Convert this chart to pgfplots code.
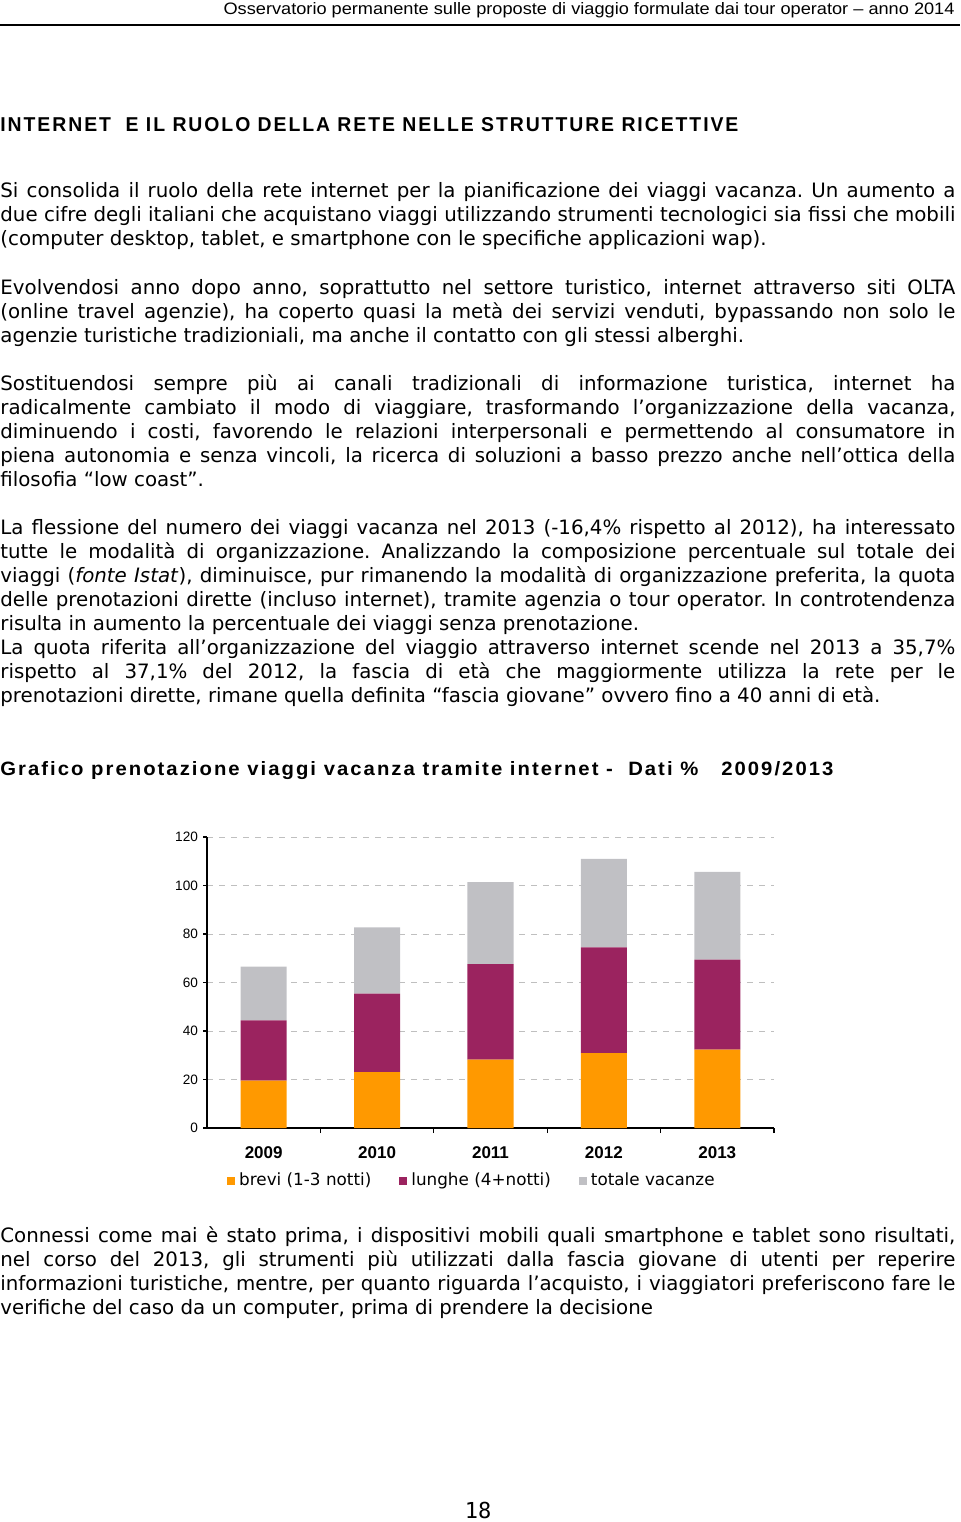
\documentclass[border=0pt]{standalone}
\usepackage{fontspec}
\setmainfont{DejaVu Sans}
\newfontfamily\arial{Liberation Sans}
\newfontfamily\arialsp[LetterSpace=10]{Liberation Sans}
\newfontfamily\monofont{DejaVu Sans Mono}
\usepackage{pgfplots}
\pgfplotsset{compat=1.18}
\definecolor{brevi}{RGB}{255,153,0}
\definecolor{lunghe}{RGB}{155,35,95}
\definecolor{totale}{RGB}{192,192,196}
\frenchspacing

% one justified line, one ragged line (y = baseline in px)
\newcommand\jline[2]{\node[anchor=base west,inner sep=0pt] at (0,#1) {\makebox[477.5pt][s]{#2}};}
\newcommand\rline[2]{\node[anchor=base west,inner sep=0pt] at (0,#1) {#2};}

\begin{document}
\begin{tikzpicture}
\begin{scope}[x=0.5pt,y=-0.5pt,every node/.style={font=\fontsize{9.9}{11}\selectfont}]
\path[use as bounding box] (0,0) rectangle (960,1522);
% header
\node[anchor=base east,inner sep=0pt] at (955,14) {\resizebox{365.5pt}{6pt}{\arial Osservatorio permanente sulle proposte di viaggio formulate dai tour operator – anno 2014}};
\draw[line width=0.8pt] (0,25) -- (960,25);
% section title
\node[anchor=base west,inner sep=0pt] at (0,131) {\resizebox{369pt}{7pt}{\arialsp\bfseries INTERNET\ \ E IL RUOLO DELLA RETE NELLE STRUTTURE RICETTIVE}};
% paragraph 1
\jline{197}{Si consolida il ruolo della rete internet per la pianificazione dei viaggi vacanza. Un aumento a}
\jline{221}{due cifre degli italiani che acquistano viaggi utilizzando strumenti tecnologici sia fissi che mobili}
\rline{245}{(computer desktop, tablet, e smartphone con le specifiche applicazioni wap).}
% paragraph 2
\jline{294}{Evolvendosi anno dopo anno, soprattutto nel settore turistico, internet attraverso siti OLTA}
\jline{318}{(online travel agenzie), ha coperto quasi la metà dei servizi venduti, bypassando non solo le}
\rline{342}{agenzie turistiche tradizioniali, ma anche il contatto con gli stessi alberghi.}
% paragraph 3
\jline{390}{Sostituendosi sempre più ai canali tradizionali di informazione turistica, internet ha}
\jline{414}{radicalmente cambiato il modo di viaggiare, trasformando l'organizzazione della vacanza,}
\jline{438}{diminuendo i costi, favorendo le relazioni interpersonali e permettendo al consumatore in}
\jline{462}{piena autonomia e senza vincoli, la ricerca di soluzioni a basso prezzo anche nell’ottica della}
\rline{486}{filosofia “low coast”.}
% paragraph 4
\jline{534}{La flessione del numero dei viaggi vacanza nel 2013 (-16,4\% rispetto al 2012), ha interessato}
\jline{558}{tutte le modalità di organizzazione. Analizzando la composizione percentuale sul totale dei}
\jline{582}{viaggi (\textit{fonte Istat}), diminuisce, pur rimanendo la modalità di organizzazione preferita, la quota}
\jline{606}{delle prenotazioni dirette (incluso internet), tramite agenzia o tour operator. In controtendenza}
\rline{630}{risulta in aumento la percentuale dei viaggi senza prenotazione.}
\jline{654}{La quota riferita all’organizzazione del viaggio attraverso internet scende nel 2013 a 35,7\%}
\jline{678}{rispetto al 37,1\% del 2012, la fascia di età che maggiormente utilizza la rete per le}
\rline{702}{prenotazioni dirette, rimane quella definita “fascia giovane” ovvero fino a 40 anni di età.}
% chart title
\node[anchor=base west,inner sep=0pt] at (0,775) {\resizebox{416.5pt}{7pt}{\arialsp\bfseries Grafico prenotazione viaggi vacanza tramite internet -\ \ Dati \%\ \ \ 2009/2013}};
% closing paragraph
\jline{1242}{Connessi come mai è stato prima, i dispositivi mobili quali smartphone e tablet sono risultati,}
\jline{1266}{nel corso del 2013, gli strumenti più utilizzati dalla fascia giovane di utenti per reperire}
\jline{1290}{informazioni turistiche, mentre, per quanto riguarda l’acquisto, i viaggiatori preferiscono fare le}
\rline{1314}{verifiche del caso da un computer, prima di prendere la decisione}
% page number
\node[anchor=base,inner sep=0pt,font=\monofont\fontsize{11}{12}\selectfont] at (478,1518) {18};
\end{scope}

\begin{axis}[
  at={(103.5pt,-564pt)}, anchor=south west,
  scale only axis, width=283.5pt, height=145.5pt,
  ybar stacked, bar width=0.406,
  xmin=-0.5, xmax=4.5, ymin=0, ymax=120,
  xtick={0,1,2,3,4}, xticklabels={2009,2010,2011,2012,2013},
  minor xtick={0.5,1.5,2.5,3.5,4.5},
  ytick={0,20,...,120},
  axis x line*=bottom, axis y line*=left,
  axis line style={line width=0.9pt, black, -},
  major x tick style={draw=none},
  tick style={black, line width=0.6pt},
  tick align=outside, major tick length=2pt, minor tick length=2.5pt,
  ymajorgrids, grid style={dashed, gray!50, line width=0.4pt},
  /pgf/number format/assume math mode=true,
  yticklabel style={font=\arial\fontsize{6.8}{7}\selectfont, xshift=1pt},
  xticklabel style={font=\arial\bfseries\fontsize{8.5}{9}\selectfont, yshift=-4pt},
  legend columns=3,
  legend style={at={(0.469,-0.182)}, anchor=center, draw=none, fill=none,
    font=\fontsize{8.4}{9}\selectfont,
    /tikz/every even column/.append style={column sep=12pt}},
]
\addplot[fill=brevi, draw=none, legend image code/.code={\fill[brevi] (0pt,-2pt) rectangle (4pt,2pt);}]
  coordinates {(0,19.5) (1,23.1) (2,28.2) (3,30.9) (4,32.3)};
\addplot[fill=lunghe, draw=none, legend image code/.code={\fill[lunghe] (0pt,-2pt) rectangle (4pt,2pt);}]
  coordinates {(0,24.9) (1,32.3) (2,39.4) (3,43.6) (4,37.1)};
\addplot[fill=totale, draw=none, legend image code/.code={\fill[totale] (0pt,-2pt) rectangle (4pt,2pt);}]
  coordinates {(0,22.2) (1,27.3) (2,33.8) (3,36.5) (4,36.2)};
\legend{brevi (1-3 notti), lunghe (4+notti), totale vacanze}
\end{axis}
\end{tikzpicture}
\end{document}
